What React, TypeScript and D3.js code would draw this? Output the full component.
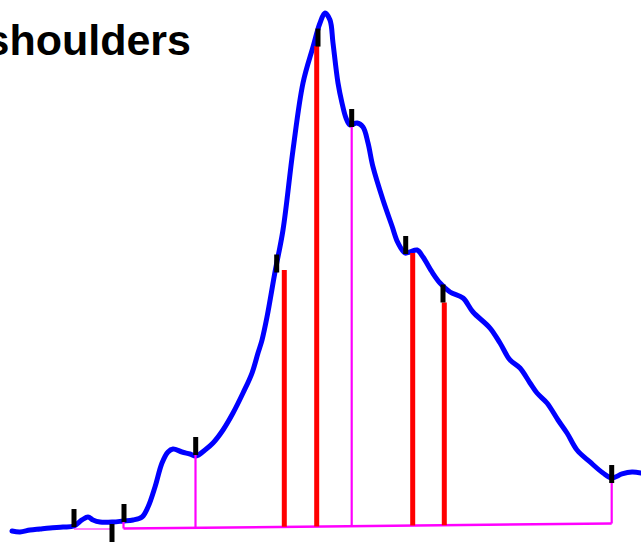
import React from "react";
import * as d3 from "d3";

// Chromatogram trace: time (min) vs intensity (%)
const traceTime = [0.6, 1.0, 1.5, 2.0, 2.5, 3.15, 3.7, 4.1, 4.4, 4.65, 5.0, 5.65, 6.15, 6.65, 7.1, 7.4, 7.75, 8.1, 8.4, 8.65, 9.1, 9.5, 9.8, 10.25, 10.65, 11.15, 11.65, 12.15, 12.6, 12.9, 13.1, 13.35, 13.75, 14.15, 14.65, 15.15, 15.65, 16.0, 16.25, 16.5, 16.65, 16.9, 17.1, 17.3, 17.5, 17.85, 18.15, 18.4, 18.65, 19.15, 19.6, 19.9, 20.25, 20.5, 20.85, 21.15, 21.6, 22.0, 22.5, 23.15, 23.65, 24.5, 25.0, 25.5, 26.0, 26.5, 26.85, 27.35, 27.9, 28.35, 28.85, 29.5, 30.15, 30.6, 31.1, 31.6, 32.05];
const traceValue = [0, -0.19, 0.19, 0.39, 0.58, 0.77, 0.97, 2.13, 2.71, 2.13, 1.74, 1.74, 1.93, 2.13, 2.71, 4.64, 8.51, 13.15, 15.28, 15.86, 15.28, 14.89, 14.51, 15.67, 17.02, 19.54, 22.82, 26.69, 30.56, 34.43, 36.94, 41.39, 50.1, 58.22, 73.69, 86.65, 93.62, 98.26, 100.19, 98.84, 94.39, 86.65, 82.79, 79.88, 78.53, 78.92, 78.14, 75.05, 70.41, 64.02, 58.99, 55.71, 53.77, 53.97, 54.35, 53.0, 50.1, 47.97, 46.23, 45.07, 42.36, 39.26, 36.36, 33.08, 31.53, 28.63, 26.69, 24.76, 21.47, 18.96, 15.67, 13.35, 11.22, 10.25, 11.03, 11.41, 11.22];

// Detected points (tick marks): time, value at tick base
const tickTime = [3.7, 5.6, 6.2, 9.785, 13.835, 15.9, 17.585, 20.285, 22.15, 30.585];
const tickValue = [0.77, -2.13, 1.74, 14.7, 50.0, 93.7, 78.14, 53.58, 44.2, 9.28];

// Shoulder markers (red): time, apex value
const shoulderTime = [14.215, 15.835, 20.635, 22.215];
const shoulderValue = [50.48, 93.81, 53.77, 44.2];

// Boundaries (magenta): time, top value
const boundaryTime = [6.175, 9.775, 17.585, 30.585];
const boundaryValue = [2.13, 14.7, 78.14, 10.25];

// Baselines
const baselineTime = [6.175, 30.585];
const baselineValue = [0.48, 1.45];
const minorBaseTime = [3.7, 5.6];
const minorBaseValue = [0.39, 0.39];

const title = "shoulders";

export default function App() {
  const W = 641, H = 543;
  const x = d3.scaleLinear().domain([0, 32.05]).range([0, 641]);
  const y = d3.scaleLinear().domain([0, 100]).range([531, 14]);
  const base = d3.scaleLinear().domain(baselineTime).range(baselineValue);

  const pts: [number, number][] = traceTime.map((t, i) => [t, traceValue[i]]);
  const line = d3
    .line<[number, number]>()
    .x((d) => x(d[0]))
    .y((d) => y(d[1]))
    .curve(d3.curveCatmullRom.alpha(0.5));

  const tickLen = 18;

  return (
    <svg
      width={W}
      height={H}
      style={{ position: "absolute", left: 0, top: 0, background: "#fff" }}
    >
      <text
        x={191}
        y={55}
        textAnchor="end"
        fontFamily="Liberation Sans, Arial, sans-serif"
        fontWeight="bold"
        fontSize={43}
        fill="#000"
      >
        {title}
      </text>
      <path d={line(pts) || ""} fill="none" stroke="#0000ff" strokeWidth={5} strokeLinejoin="round" strokeLinecap="round" />
      <line
        x1={x(minorBaseTime[0])}
        x2={x(minorBaseTime[1])}
        y1={y(minorBaseValue[0])}
        y2={y(minorBaseValue[1])}
        stroke="#ff00ff"
        strokeWidth={1.2}
      />
      <line
        x1={x(baselineTime[0])}
        x2={x(baselineTime[1])}
        y1={y(baselineValue[0])}
        y2={y(baselineValue[1])}
        stroke="#ff00ff"
        strokeWidth={2.5}
      />
      {boundaryTime.map((t, i) => (
        <line
          key={"b" + i}
          x1={x(t)}
          x2={x(t)}
          y1={y(base(t))}
          y2={y(boundaryValue[i])}
          stroke="#ff00ff"
          strokeWidth={2.2}
        />
      ))}
      {shoulderTime.map((t, i) => (
        <line
          key={"s" + i}
          x1={x(t)}
          x2={x(t)}
          y1={y(base(t))}
          y2={y(shoulderValue[i])}
          stroke="#ff0000"
          strokeWidth={5}
        />
      ))}
      {tickTime.map((t, i) => (
        <rect
          key={"t" + i}
          x={x(t) - 2.5}
          y={y(tickValue[i]) - tickLen}
          width={5}
          height={tickLen}
          fill="#000"
        />
      ))}
    </svg>
  );
}
